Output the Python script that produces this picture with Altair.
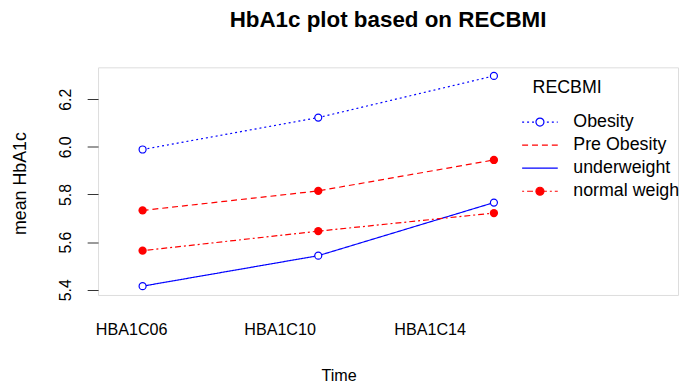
import json
import altair as alt
import pandas as pd

# ---- data ----
times = ["HBA1C06", "HBA1C10", "HBA1C14"]
groups = ["Obesity", "Pre Obesity", "underweight", "normal weight"]
obesity = [5.989, 6.123, 6.298]
pre_obesity = [5.733, 5.815, 5.945]
underweight = [5.415, 5.543, 5.766]
normal_weight = [5.564, 5.646, 5.722]
y_ticks = [5.4, 5.6, 5.8, 6.0, 6.2]

series = dict(zip(groups, [obesity, pre_obesity, underweight, normal_weight]))
rows = []
for g, vals in series.items():
    for i, (t, v) in enumerate(zip(times, vals)):
        rows.append({"group": g, "time": t, "t": i + 1, "hba1c": v})
df = pd.DataFrame(rows)

# ---- styling ----
FONT = "Liberation Sans"
colors = ["#0000FF", "#FF0000", "#0000FF", "#FF0000"]
dashes = [[2, 3], [6, 4], [1, 0], [2, 3, 6, 3]]
open_groups = ["Obesity", "underweight"]
filled_groups = ["Pre Obesity", "normal weight"]
circ = "M0.45,0A0.45,0.45,0,1,1,-0.45,0A0.45,0.45,0,1,1,0.45,0Z"
marker_keys = ["m1", "m2", "m3", "m4"]
marker_paths = [circ, "M0,0", "M0,0", circ]
marker_fills = ["white", "transparent", "transparent", "#FF0000"]

x_domain = [0.7465, 4.048]
y_domain = [5.378, 6.334]
label_pos = [0.935, 1.780, 2.634]
label_step = label_pos[1] - label_pos[0]
label_expr = f"{json.dumps(times)}[round((datum.value - {label_pos[0]}) / {label_step})]"

LEG_X, LEG_Y, LEG_FS, LEG_TPAD = 439, 12, 18, 15.3


def make_legend(title, legend_y, **extra):
    return alt.Legend(
        title=title, orient="none", legendX=LEG_X, legendY=legend_y,
        symbolSize=324, symbolStrokeWidth=1.2, symbolOffset=-2.5,
        labelOffset=23.7, rowPadding=4.3, titlePadding=LEG_TPAD, padding=0,
        labelFontSize=LEG_FS, titleFontSize=LEG_FS, labelFont=FONT, titleFont=FONT,
        titleFontWeight="normal", labelColor="black", titleColor="black",
        labelLimit=400, **extra,
    )


line_legend = make_legend("RECBMI", LEG_Y, symbolType="M-2,0H2")
mark_legend = make_legend("", LEG_Y + LEG_FS + LEG_TPAD, labelExpr="''")

x_enc = alt.X(
    "t:Q",
    scale=alt.Scale(domain=x_domain, nice=False, zero=False),
    axis=alt.Axis(
        values=label_pos, labelExpr=label_expr, ticks=False, domain=False, grid=False,
        labelFlush=False, labelPadding=27, labelFontSize=16.3, labelFont=FONT,
        labelColor="black", title="Time", titleFontSize=16.3, titleFont=FONT,
        titleFontWeight="normal", titleColor="black", titleX=243, titleY=86,
        titleAlign="center", titleBaseline="alphabetic",
    ),
)
y_enc = alt.Y(
    "hba1c:Q",
    scale=alt.Scale(domain=y_domain, nice=False, zero=False),
    axis=alt.Axis(
        values=y_ticks, format=".1f", domain=False, grid=False, tickSize=11,
        tickColor="#333333", tickWidth=1, labelAngle=270, labelAlign="center",
        labelBaseline="alphabetic", labelPadding=17, labelFontSize=16,
        labelFont=FONT, labelColor="black", title="mean HbA1c", titleFontSize=18,
        titleFont=FONT, titleFontWeight="normal", titleColor="black",
        titleAngle=270, titleX=-73, titleY=117, titleAlign="center",
        titleBaseline="alphabetic",
    ),
)

base = alt.Chart(df)
color_scale = alt.Scale(domain=groups, range=colors)

lines = base.mark_line(strokeWidth=1.2).encode(
    x=x_enc,
    y=y_enc,
    color=alt.Color("group:N", scale=color_scale, legend=line_legend),
    strokeDash=alt.StrokeDash("group:N", scale=alt.Scale(domain=groups, range=dashes), legend=line_legend),
)

open_pts = base.transform_filter(
    alt.FieldOneOfPredicate(field="group", oneOf=open_groups)
).mark_point(shape="circle", size=50, filled=False, fill="white", strokeWidth=1.2, opacity=1).encode(
    x=x_enc,
    y=y_enc,
    color=alt.Color("group:N", scale=color_scale, legend=None),
)

filled_pts = base.transform_filter(
    alt.FieldOneOfPredicate(field="group", oneOf=filled_groups)
).mark_circle(size=70, opacity=1).encode(
    x=x_enc,
    y=y_enc,
    color=alt.Color("group:N", scale=color_scale, legend=None),
)

marker_df = pd.DataFrame({"mk": marker_keys})
legend_markers = alt.Chart(marker_df).transform_filter("false").mark_point(
    filled=True, strokeWidth=1.2, opacity=1
).encode(
    shape=alt.Shape("mk:N", scale=alt.Scale(domain=marker_keys, range=marker_paths), legend=mark_legend),
    fill=alt.Fill("mk:N", scale=alt.Scale(domain=marker_keys, range=marker_fills), legend=mark_legend),
    stroke=alt.Stroke("mk:N", scale=alt.Scale(domain=marker_keys, range=colors), legend=mark_legend),
)

chart = alt.layer(lines, open_pts, filled_pts, legend_markers).properties(
    width=586,
    height=230,
    autosize=alt.AutoSizeParams(type="none"),
    padding={"left": 91, "top": 58, "right": 1, "bottom": 88},
    title=alt.TitleParams(
        "HbA1c plot based on RECBMI", fontSize=22.6, font=FONT, fontWeight="bold",
        anchor="middle", frame="group", offset=36, color="black",
    ),
).configure_view(stroke="#333333", strokeWidth=1).configure(background="white")

chart.save("out.html", embed_options={"renderer": "svg", "actions": False})
